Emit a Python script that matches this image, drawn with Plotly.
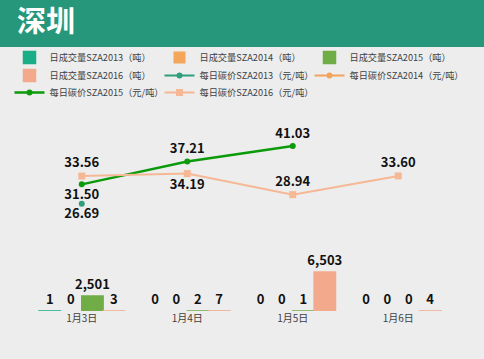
import plotly.graph_objects as go

categories = ["1月3日", "1月4日", "1月5日", "1月6日"]

vol_2013 = [1, 0, 0, 0]
vol_2014 = [0, 0, 0, 0]
vol_2015 = [2501, 2, 1, 0]
vol_2016 = [3, 7, 6503, 4]

price_2013 = [26.69, None, None, None]
price_2014 = [None, None, None, None]
price_2015 = [31.50, 37.21, 41.03, None]
price_2016 = [33.56, 34.19, 28.94, 33.60]

pos_2013 = ["bottom center", "top center", "top center", "top center"]
pos_2015 = ["bottom center", "top center", "top center", "top center"]
pos_2016 = ["top center", "bottom center", "top center", "top center"]

bar_names = ["日成交量SZA2013（吨）", "日成交量SZA2014（吨）", "日成交量SZA2015（吨）", "日成交量SZA2016（吨）"]
line_names = ["每日碳价SZA2013（元/吨）", "每日碳价SZA2014（元/吨）", "每日碳价SZA2015（元/吨）", "每日碳价SZA2016（元/吨）"]

bar_colors = ["#1AAE86", "#F4A75A", "#70AD47", "#F2A98C"]
line_colors = ["#2E9E7C", "#F4A35B", "#0A9A0A", "#F6B894"]

# legend row for each trace (bars then lines)
legend_rows = ["legend", "legend", "legend", "legend2", "legend2", "legend2", "legend3", "legend3"]

FONT = "Noto Sans CJK SC, Noto Sans, sans-serif"
label_font = dict(family=FONT, size=13, color="#111111")

fig = go.Figure()

for i, (name, vals, col) in enumerate(zip(bar_names, [vol_2013, vol_2014, vol_2015, vol_2016], bar_colors)):
    fig.add_trace(go.Bar(
        x=categories, y=vals, name=name, legend=legend_rows[i],
        marker=dict(color=col, line=dict(color=col, width=[1.5 if v > 0 else 0 for v in vals])),
        text=[f"<b>{v:,}</b>" for v in vals], textposition="outside",
        constraintext="none",
        textfont=label_font, cliponaxis=False, yaxis="y",
    ))

line_specs = [
    (price_2013, pos_2013, "circle", 6, 2),
    (price_2014, ["top center"] * 4, "circle", 6, 2),
    (price_2015, pos_2015, "circle", 6, 2.5),
    (price_2016, pos_2016, "square", 7, 2),
]
for j, (name, col, (vals, pos, sym, msz, lw)) in enumerate(zip(line_names, line_colors, line_specs)):
    fig.add_trace(go.Scatter(
        x=categories, y=vals, name=name, mode="lines+markers+text", legend=legend_rows[4 + j],
        line=dict(color=col, width=lw), marker=dict(color=col, symbol=sym, size=msz),
        text=[f"<b>{v:.2f}</b>" if v is not None else "" for v in vals],
        textposition=pos, textfont=label_font, cliponaxis=False, yaxis="y2",
    ))

W, H = 484, 359
ml, mr, mt, mb = 29, 33, 110, 48
pw = W - ml - mr
ph = H - mt - mb


def legend_at(top_px):
    return dict(
        orientation="h", x=(9.5 - ml) / pw, xanchor="left",
        y=1 + (mt - top_px) / ph, yanchor="top",
        entrywidth=105, entrywidthmode="pixels",
        font=dict(family=FONT, size=9.2, color="#404040"),
        bgcolor="rgba(0,0,0,0)", tracegroupgap=0, itemwidth=30,
    )


fig.update_layout(
    width=W, height=H,
    margin=dict(l=ml, r=mr, t=mt, b=mb, autoexpand=False),
    paper_bgcolor="#EDEDED", plot_bgcolor="#EDEDED",
    barmode="group", bargap=0.19, bargroupgap=0,
    font=dict(family=FONT, size=10, color="#404040"),
    showlegend=True,
    legend=legend_at(43),
    legend2=legend_at(61),
    legend3=legend_at(78),
    xaxis=dict(showgrid=False, zeroline=False, showline=False, ticks="",
               tickfont=dict(family=FONT, size=10, color="#404040")),
    yaxis=dict(range=[0, 33515], visible=False, showgrid=False, zeroline=False),
    yaxis2=dict(range=[0, 50], overlaying="y", visible=False, showgrid=False, zeroline=False),
    title=dict(text="<b>深圳</b>", x=17 / W, xanchor="left", xref="container",
               y=1 - 22 / H, yanchor="middle", yref="container",
               font=dict(family=FONT, size=29, color="white")),
    shapes=[dict(type="rect", xref="paper", yref="paper",
                 x0=-ml / pw, x1=1 + mr / pw,
                 y0=1 + (mt - 47) / ph, y1=1 + mt / ph,
                 fillcolor="#26977A", line=dict(width=0), layer="below")],
)

fig.write_html("out.html", config={"displayModeBar": False},
               post_script="document.body.style.margin='0px';document.body.style.overflow='hidden';")
